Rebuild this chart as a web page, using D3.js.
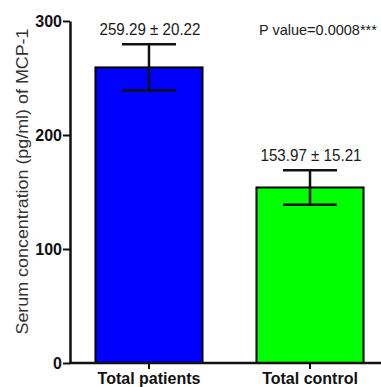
<!DOCTYPE html>
<html>
<head>
<meta charset="utf-8">
<script src="https://cdn.jsdelivr.net/npm/d3@7"></script>
<style>
  body { margin: 0; background: #fff; }
  svg text { font-family: Arial, "Liberation Sans", sans-serif; }
</style>
</head>
<body>
<div id="chart"></div>
<script>
//chart data
var categories = ['Total patients', 'Total control'];
var means = [259.29, 153.97];
var errors = [20.22, 15.21];
var barColors = ['#0000ff', '#00ff00'];
var yTicks = [0, 100, 200, 300];
var pLabel = 'P value=0.0008***';

var width = 381, height = 387,
    plotLeft = 70, plotTop = 21, plotBottom = 363;

var svg = d3.select('#chart').append('svg')
    .attr('width', width)
    .attr('height', height);

//scales
var y = d3.scaleLinear().domain([0, 300]).range([plotBottom, plotTop]);
var x = d3.scaleBand().domain(categories)
    .range([plotLeft, 389])
    .paddingInner(0.335)
    .paddingOuter(0.158);

//bars
svg.selectAll('rect.bar')
    .data(categories)
    .enter().append('rect')
    .attr('class', 'bar')
    .attr('x', function (d) { return x(d); })
    .attr('y', function (d, i) { return y(means[i]); })
    .attr('width', x.bandwidth())
    .attr('height', function (d, i) { return y(0) - y(means[i]); })
    .attr('fill', function (d, i) { return barColors[i]; })
    .attr('stroke', '#000')
    .attr('stroke-width', 2);

//error bars
var capHalf = 27;
var eb = svg.selectAll('g.err')
    .data(categories)
    .enter().append('g')
    .attr('class', 'err')
    .attr('stroke', '#111')
    .attr('stroke-width', 2.5);

eb.append('line')
    .attr('x1', function (d) { return x(d) + x.bandwidth() / 2; })
    .attr('x2', function (d) { return x(d) + x.bandwidth() / 2; })
    .attr('y1', function (d, i) { return y(means[i] + errors[i]); })
    .attr('y2', function (d, i) { return y(means[i] - errors[i]); });

[1, -1].forEach(function (s) {
    eb.append('line')
        .attr('x1', function (d) { return x(d) + x.bandwidth() / 2 - capHalf; })
        .attr('x2', function (d) { return x(d) + x.bandwidth() / 2 + capHalf; })
        .attr('y1', function (d, i) { return y(means[i] + s * errors[i]); })
        .attr('y2', function (d, i) { return y(means[i] + s * errors[i]); });
});

//value labels (glyphs are a bit narrow in the original)
svg.selectAll('text.val')
    .data(categories)
    .enter().append('text')
    .attr('class', 'val')
    .attr('x', function (d) { return x(d) + x.bandwidth() / 2 + 1; })
    .attr('y', function (d, i) { return y(means[i] + errors[i]) - 9; })
    .attr('text-anchor', 'middle')
    .attr('font-size', 16)
    .attr('fill', '#1a1a1a')
    .attr('textLength', 101)
    .attr('lengthAdjust', 'spacingAndGlyphs')
    .text(function (d, i) { return means[i].toFixed(2) + ' \u00b1 ' + errors[i].toFixed(2); });

//p value
svg.append('text')
    .attr('x', 259)
    .attr('y', 35)
    .attr('font-size', 14.5)
    .attr('fill', '#1a1a1a')
    .text(pLabel);

//y axis
var yAxis = svg.append('g')
    .attr('transform', 'translate(' + plotLeft + ',0)')
    .call(d3.axisLeft(y).tickValues(yTicks).tickSize(7).tickPadding(1).tickSizeOuter(0));
yAxis.select('.domain').attr('stroke-width', 2.5).attr('stroke', '#111');
yAxis.selectAll('.tick line').attr('stroke-width', 2).attr('stroke', '#111');
yAxis.selectAll('.tick text')
    .attr('font-size', 16)
    .attr('font-weight', 'bold')
    .attr('fill', '#111')
    .style('font-family', 'Arial, "Liberation Sans", sans-serif');

//x axis
var xAxis = svg.append('g')
    .attr('transform', 'translate(0,' + plotBottom + ')')
    .call(d3.axisBottom(x).tickSize(6).tickPadding(4).tickSizeOuter(0));
xAxis.select('.domain').attr('d', 'M' + (plotLeft - 1) + ',0H' + width)
    .attr('stroke-width', 2.5).attr('stroke', '#111');
xAxis.selectAll('.tick line').attr('stroke-width', 2).attr('stroke', '#111');
xAxis.selectAll('.tick text')
    .attr('font-size', 16)
    .attr('font-weight', 'bold')
    .attr('fill', '#111')
    .style('font-family', 'Arial, "Liberation Sans", sans-serif');

//y axis title
svg.append('text')
    .attr('transform', 'translate(28,' + 181.5 + ') rotate(-90)')
    .attr('text-anchor', 'middle')
    .attr('font-size', 16)
    .attr('fill', '#333')
    .attr('textLength', 306)
    .attr('lengthAdjust', 'spacingAndGlyphs')
    .text('Serum concentration (pg/ml) of MCP-1');
</script>
</body>
</html>
